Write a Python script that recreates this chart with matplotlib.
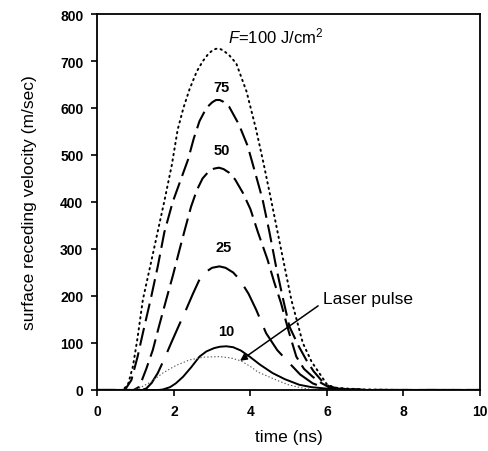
import matplotlib
matplotlib.use("Agg")
import matplotlib.pyplot as plt

plt.rcParams['font.family'] = ['Liberation Sans', 'DejaVu Sans']
plt.rcParams['lines.scale_dashes'] = False
plt.rcParams['mathtext.fontset'] = 'custom'
plt.rcParams['mathtext.rm'] = 'Liberation Sans'
plt.rcParams['mathtext.it'] = 'Liberation Sans:italic'

# F = 100 J/cm2 (dotted)
t100 = [0, 0.62, 0.7, 0.8, 0.93, 1.05, 1.19, 1.4, 1.6, 1.76, 1.95, 2.1, 2.25, 2.41, 2.6, 2.76, 2.9, 3.0,
        3.1, 3.2, 3.3, 3.45, 3.63, 3.9, 4.15, 4.35, 4.54, 4.8, 5.07, 5.37, 5.6, 5.8, 6.0, 6.2, 6.5, 7.0, 8.0, 10]
v100 = [0, 0, 3, 11, 50, 110, 192, 270, 345, 405, 480, 554, 600, 640, 678, 700, 715, 722,
        726, 726, 722, 712, 695, 635, 554, 480, 405, 300, 192, 100, 60, 36, 12, 5, 3, 1, 0, 0]

# F = 75
t75 = [0, 0.72, 0.89, 1.05, 1.19, 1.4, 1.58, 1.75, 1.97, 2.17, 2.37, 2.52, 2.67, 2.85, 3.0, 3.1, 3.2,
       3.3, 3.45, 3.7, 3.93, 4.15, 4.32, 4.5, 4.67, 4.85, 5.02, 5.25, 5.46, 5.65, 5.85, 6.05, 6.3, 7.0, 10]
v75 = [0, 0, 21, 70, 121, 195, 263, 335, 400, 445, 490, 535, 572, 600, 612, 617, 617,
       613, 602, 565, 519, 455, 405, 335, 263, 195, 135, 95, 64, 40, 21, 8, 3, 0, 0]

# F = 50
t50 = [0, 0.95, 1.1, 1.28, 1.45, 1.62, 1.8, 1.98, 2.15, 2.3, 2.45, 2.6, 2.75, 2.9, 3.05, 3.18,
       3.3, 3.45, 3.6, 3.8, 4.0, 4.2, 4.45, 4.62, 4.8, 5.0, 5.2, 5.4, 5.63, 5.85, 6.05, 6.3, 7.0, 10]
v50 = [0, 0, 7, 45, 85, 138, 192, 245, 299, 345, 390, 425, 450, 464, 471, 473,
       470, 462, 448, 420, 385, 335, 277, 230, 185, 125, 71, 45, 28, 15, 6, 2, 0, 0]

# F = 25
t25 = [0, 1.15, 1.28, 1.42, 1.58, 1.75, 1.93, 2.12, 2.32, 2.5, 2.67, 2.85, 3.0, 3.19, 3.35, 3.55,
       3.72, 3.95, 4.15, 4.41, 4.7, 5.02, 5.3, 5.63, 5.9, 6.1, 6.4, 7.0, 10]
v25 = [0, 0, 3, 15, 36, 66, 100, 135, 171, 205, 235, 252, 260, 263, 260, 250,
       235, 205, 171, 121, 85, 57, 33, 14, 6, 3, 1, 0, 0]

# F = 10 (solid)
t10 = [0, 1.6, 1.71, 1.9, 2.05, 2.24, 2.45, 2.67, 2.85, 3.05, 3.2, 3.37, 3.55, 3.75, 3.98, 4.25,
       4.58, 4.9, 5.28, 5.6, 5.98, 6.3, 6.6, 7.0, 10]
v10 = [0, 0, 1, 6, 14, 28, 48, 71, 82, 89, 92, 93, 91, 84, 71, 54,
       36, 23, 11, 6, 3, 1.5, 0.5, 0, 0]

# Laser pulse (thin dotted)
tl = [0, 0.9, 1.1, 1.4, 1.71, 2.05, 2.41, 2.8, 3.2, 3.5, 3.75, 4.0, 4.2, 4.43, 4.77, 5.0, 5.3, 5.6, 10]
vl = [0, 0, 4, 17, 36, 52, 64, 70, 71, 68, 62, 50, 38, 30, 18, 11, 5, 1, 0]

curve_labels = ["75", "50", "25", "10"]
label_pos = [(3.24, 644), (3.24, 511), (3.31, 304), (3.38, 126)]

xticks = [0, 2, 4, 6, 8, 10]
yticks = [0, 100, 200, 300, 400, 500, 600, 700, 800]

fig = plt.figure(figsize=(4.88, 4.52), dpi=100)
ax = fig.add_axes([0.1994, 0.135, 0.7842, 0.8318])

ax.plot(t100, v100, color='black', lw=1.4, linestyle=(0, (1.0, 3.0)), dash_capstyle='round')
ax.plot(t75, v75, color='black', lw=1.5, linestyle=(0, (13, 5)))
ax.plot(t50, v50, color='black', lw=1.5, linestyle=(0, (13, 5)))
ax.plot(t25, v25, color='black', lw=1.5, linestyle=(0, (24, 9)))
ax.plot(t10, v10, color='black', lw=1.4)
ax.plot(tl, vl, color='0.35', lw=0.8, linestyle=(0, (1.0, 1.5)))

for lab, (x, y) in zip(curve_labels, label_pos):
    ax.text(x, y, lab, ha='center', va='center', fontsize=10.5, fontweight='bold')

ax.text(3.42, 754, r'$F$=100 J/cm$^2$', ha='left', va='center', fontsize=12)

ax.annotate('', xy=(3.73, 62), xytext=(5.77, 179),
            arrowprops=dict(arrowstyle='-|>', color='black', lw=1.1,
                            mutation_scale=10, shrinkA=0, shrinkB=0))
ax.text(5.91, 194, 'Laser pulse', ha='left', va='center', fontsize=12.5)

ax.set_xlim(0, 10)
ax.set_ylim(0, 800)
ax.set_xticks(xticks)
ax.set_yticks(yticks)
ax.set_xticklabels([str(v) for v in xticks], fontweight='bold', fontsize=10)
ax.set_yticklabels([str(v) for v in yticks], fontweight='bold', fontsize=10)
ax.tick_params(direction='out', length=4, width=1.2, pad=6)
for s in ax.spines.values():
    s.set_linewidth(1.3)
ax.set_xlabel('time (ns)', fontsize=12.5, labelpad=8)
ax.set_ylabel('surface receding velocity (m/sec)', fontsize=12.5, labelpad=17)

fig.savefig('out.png', dpi=100)
